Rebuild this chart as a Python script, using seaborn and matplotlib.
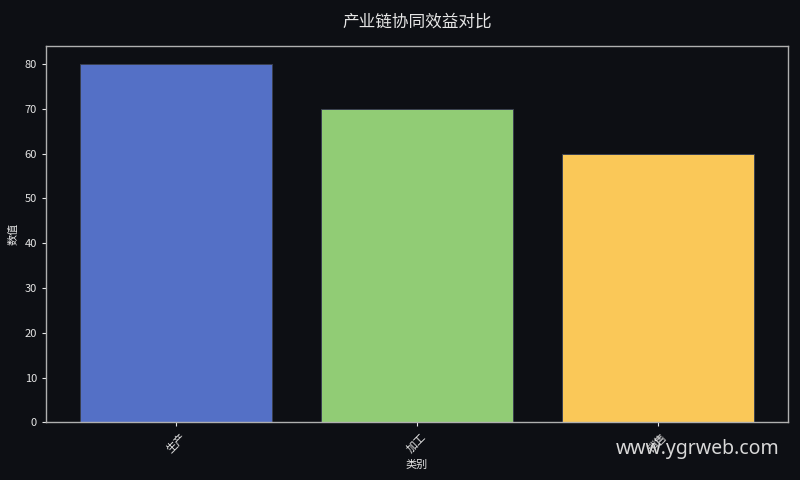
import pandas as pd
import matplotlib
matplotlib.use('Agg')
import matplotlib.pyplot as plt
import seaborn as sns

categories = ['生产', '加工', '销售']
values = [80, 70, 60]
colors = ['#5470c6', '#91cc75', '#fac858']

bg = '#0d0f14'
fg = '#e6e6e6'

sns.set_style('dark')
plt.rcParams['font.family'] = ['Noto Sans CJK SC', 'DejaVu Sans']
plt.rcParams['axes.unicode_minus'] = False

df = pd.DataFrame({'类别': categories, '数值': values})

fig, ax = plt.subplots(figsize=(8, 4.8), dpi=100)
fig.patch.set_facecolor(bg)
ax.set_facecolor(bg)

sns.barplot(data=df, x='类别', y='数值', hue='类别', palette=colors,
            legend=False, width=0.8, saturation=1,
            edgecolor='#3a4050', linewidth=0.7, ax=ax)

ax.set_xlim(-0.54, 2.54)
ax.set_ylim(0, 84)
ax.set_title('产业链协同效益对比', color=fg, fontsize=12, pad=14)
ax.set_xlabel('类别', color=fg, fontsize=8)
ax.set_ylabel('数值', color=fg, fontsize=8)
ax.tick_params(axis='both', colors=fg, labelsize=8, length=3, bottom=True, left=True)
plt.setp(ax.get_xticklabels(), rotation=45)
ax.grid(False)
for s in ax.spines.values():
    s.set_visible(True)
    s.set_color('#b0b0b0')
    s.set_linewidth(1)

plt.subplots_adjust(left=0.0575, right=0.985, top=0.904, bottom=0.12)
fig.text(0.975, 0.043, 'www.ygrweb.com', color='#d8d8d8', fontsize=14,
         ha='right', va='bottom', family=['Noto Sans', 'DejaVu Sans'], zorder=0)

fig.savefig('out.png', dpi=100, facecolor=bg)
